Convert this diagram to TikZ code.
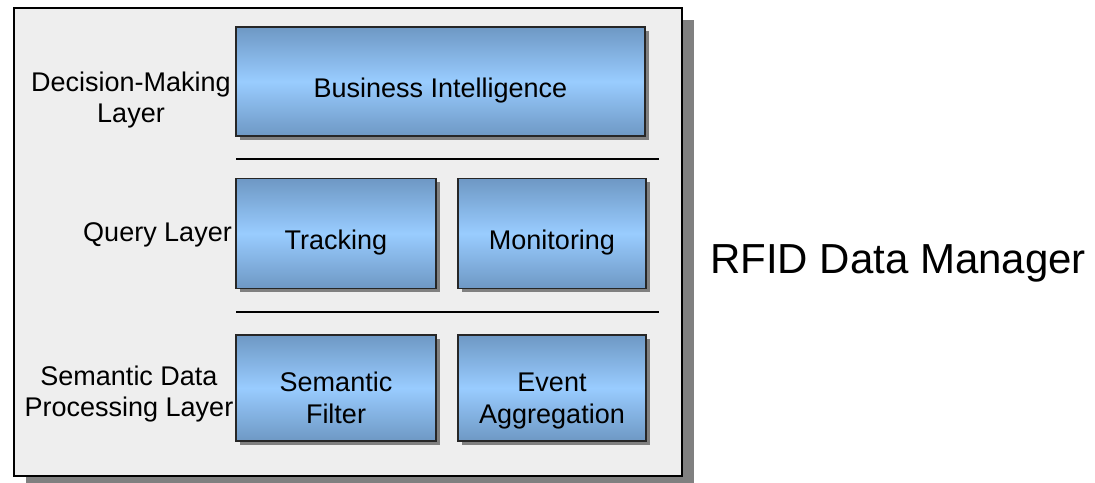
\documentclass[tikz,border=0pt]{standalone}
\usepackage{fontspec}
\setmainfont{Liberation Sans}
\usetikzlibrary{shadows}
\definecolor{boxedge}{HTML}{6E98C4}
\definecolor{boxmid}{HTML}{99CCFF}
\definecolor{framefill}{HTML}{EEEEEE}
\definecolor{shadowgray}{HTML}{808080}
\begin{document}
\begin{tikzpicture}[x=1pt,y=-1pt,
  framebox/.style={draw=black, line width=1.2pt, fill=framefill,
    general shadow={fill=shadowgray, shadow xshift=12pt, shadow yshift=-12pt},
    inner sep=0pt, outer sep=0pt},
  compbox/.style={draw=black!85, line width=1.6pt,
    top color=boxedge, bottom color=boxedge, middle color=boxmid,
    general shadow={fill=shadowgray, shadow xshift=3.5pt, shadow yshift=-3.5pt},
    inner sep=0pt, outer sep=0pt},
  comptext/.style={align=center, inner sep=0pt, text depth=6pt,
    font=\fontsize{27}{32}\selectfont},
  onelinetext/.style={comptext, text height=19pt},
  layerlabel/.style={align=center, inner sep=0pt, font=\fontsize{27}{31}\selectfont},
  sepline/.style={line width=2pt, black}]
\useasboundingbox (0,0) rectangle (1095,482);
% outer frame
\node[framebox, minimum width=668pt, minimum height=468pt] (frame) at (348,242) {};
% components
\node[compbox, minimum width=409pt, minimum height=109pt] (bi) at (440.5,81.5) {};
\node[compbox, minimum width=200pt, minimum height=110pt] (track) at (336,233.5) {};
\node[compbox, minimum width=188pt, minimum height=110pt] (mon) at (552,233.5) {};
\node[compbox, minimum width=200pt, minimum height=106pt] (sf) at (336,388) {};
\node[compbox, minimum width=188pt, minimum height=106pt] (ea) at (552,388) {};
\node[onelinetext] (bit) at ([yshift=-9.5pt]bi.center) {Business Intelligence};
\node[onelinetext] (trackt) at ([yshift=-9.5pt]track.center) {Tracking};
\node[onelinetext] (mont) at ([yshift=-9.5pt]mon.center) {Monitoring};
\node[comptext] (sft) at ([yshift=-13pt]sf.center) {Semantic\\Filter};
\node[comptext] (eat) at ([yshift=-13pt]ea.center) {Event\\Aggregation};
% separators
\coordinate (s1a) at (236,159);
\coordinate (s1b) at (659,159);
\coordinate (s2a) at (236,312);
\coordinate (s2b) at (659,312);
\draw[sepline] (s1a) -- (s1b);
\draw[sepline] (s2a) -- (s2b);
% layer labels
\node[layerlabel] (l1) at (131,100.5) {Decision-Making\\Layer};
\node[layerlabel, anchor=east] (l2) at (232,235) {Query Layer};
\node[layerlabel] (l3) at (129,394) {Semantic Data\\Processing Layer};
% title
\node[inner sep=0pt, font=\fontsize{42}{48}\selectfont] (title) at (898,263) {RFID Data Manager};
\end{tikzpicture}
\end{document}
